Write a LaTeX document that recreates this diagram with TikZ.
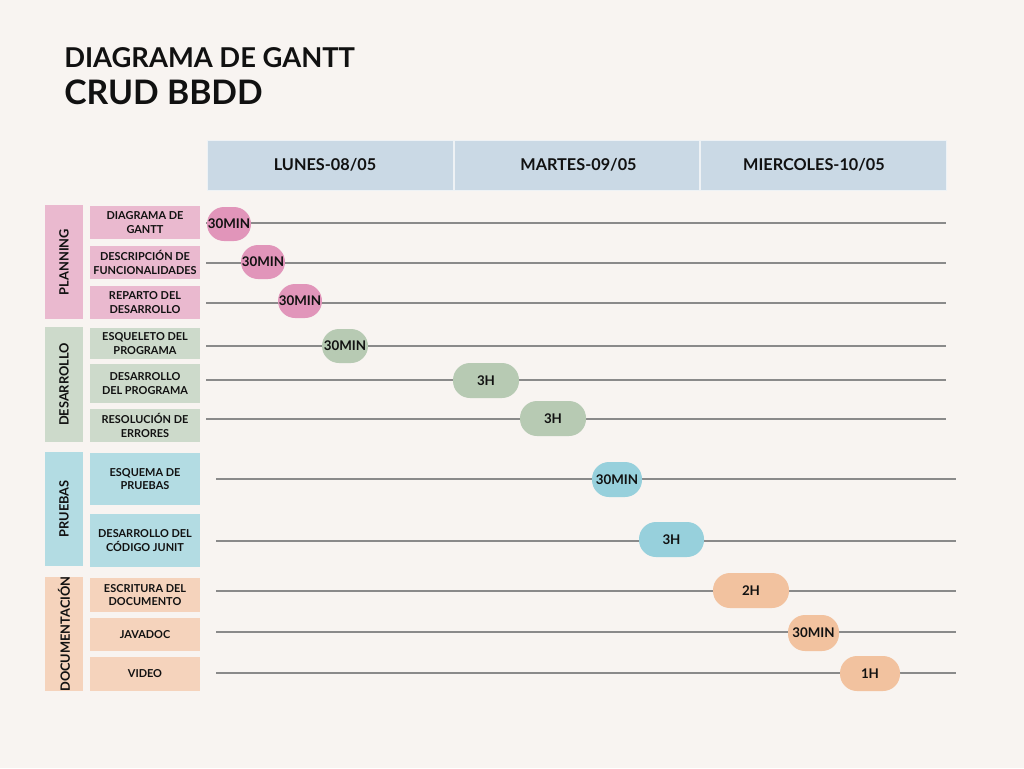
\documentclass[tikz,border=0pt]{standalone}
\usepackage{fontspec}
\setmainfont{Lato}
\usetikzlibrary{fit}
\definecolor{bg}{HTML}{F8F4F1}
\definecolor{ink}{HTML}{111111}
\definecolor{headc}{HTML}{CAD9E5}
\definecolor{headsep}{HTML}{EEF2F5}
\definecolor{pinkc}{HTML}{EAB9CF}
\definecolor{pinkp}{HTML}{E195BA}
\definecolor{greenc}{HTML}{CDDACB}
\definecolor{greenp}{HTML}{B7CAB3}
\definecolor{bluec}{HTML}{B3DCE3}
\definecolor{bluep}{HTML}{97D0DC}
\definecolor{orangec}{HTML}{F5D3BC}
\definecolor{orangep}{HTML}{F2C29F}
\definecolor{gridc}{HTML}{8A8A8A}
\begin{document}
\begin{tikzpicture}[x=0.75pt,y=-0.75pt,
  cellbox/.style={inner sep=0pt, outer sep=0pt},
  lab/.style={inner sep=0pt, outer sep=0pt, align=center, text=ink},
  headbox/.style={cellbox, fill=headc, draw=headsep, line width=0.6pt},
  headlab/.style={lab, font=\bfseries\fontsize{12.2}{14}\selectfont},
  catlab/.style={lab, rotate=90, font=\bfseries\fontsize{9.6}{11}\selectfont},
  tasklab/.style={lab, font=\bfseries\fontsize{8.2}{10}\selectfont},
  pill/.style={cellbox, rounded corners=12.75pt},
  pilllab/.style={lab, font=\bfseries\fontsize{10}{12}\selectfont},
  gridline/.style={draw=gridc, line width=0.9pt},
  titlefont/.style={inner sep=0pt, anchor=base west, text=ink}
]
\useasboundingbox[fill=bg] (0,0) rectangle (1024,768);

% titles
\node[titlefont, font=\bfseries\fontsize{20.5}{24}\selectfont] (title1) at (64,67) {DIAGRAMA DE GANTT};
\node[titlefont, font=\bfseries\fontsize{25.3}{28}\selectfont] (title2) at (64,104) {CRUD BBDD};

% header
\node[headbox, fit={(207,140) (453,190)}] (h1) {};
\node[headlab, xshift=-3.75pt] (h1l) at (h1.center) {LUNES-08/05};
\node[headbox, fit={(454,140) (699,190)}] (h2) {};
\node[headlab, xshift=1.5pt] (h2l) at (h2.center) {MARTES-09/05};
\node[headbox, fit={(700,140) (946,190)}] (h3) {};
\node[headlab, xshift=-6.75pt] (h3l) at (h3.center) {MIERCOLES-10/05};

% categories
\node[cellbox, fill=pinkc, fit={(45,205) (83,319)}] (cat1) {};
\node[catlab] (cl1) at (cat1.center) {PLANNING};
\node[cellbox, fill=greenc, fit={(45,327) (83,442)}] (cat2) {};
\node[catlab] (cl2) at (cat2.center) {DESARROLLO};
\node[cellbox, fill=bluec, fit={(45,452) (83,566)}] (cat3) {};
\node[catlab] (cl3) at (cat3.center) {PRUEBAS};
\node[cellbox, fill=orangec, fit={(45,577) (83,691)}] (cat4) {};
\node[catlab] (cl4) at (cat4.center) {DOCUMENTACIÓN};

% tasks
\node[cellbox, fill=pinkc, fit={(90,206) (200,239)}] (t1) {};
\node[tasklab] (t1l) at (t1.center) {DIAGRAMA DE\\GANTT};
\node[cellbox, fill=pinkc, fit={(90,246) (200,279)}] (t2) {};
\node[tasklab] (t2l) at (t2.center) {DESCRIPCIÓN DE\\FUNCIONALIDADES};
\node[cellbox, fill=pinkc, fit={(90,286) (200,319)}] (t3) {};
\node[tasklab] (t3l) at (t3.center) {REPARTO DEL\\DESARROLLO};
\node[cellbox, fill=greenc, fit={(90,328) (200,359)}] (t4) {};
\node[tasklab] (t4l) at (t4.center) {ESQUELETO DEL\\PROGRAMA};
\node[cellbox, fill=greenc, fit={(90,364) (200,403)}] (t5) {};
\node[tasklab] (t5l) at (t5.center) {DESARROLLO\\DEL PROGRAMA};
\node[cellbox, fill=greenc, fit={(90,409) (200,442)}] (t6) {};
\node[tasklab] (t6l) at (t6.center) {RESOLUCIÓN DE\\ERRORES};
\node[cellbox, fill=bluec, fit={(90,453) (200,505)}] (t7) {};
\node[tasklab] (t7l) at (t7.center) {ESQUEMA DE\\PRUEBAS};
\node[cellbox, fill=bluec, fit={(90,514) (200,567)}] (t8) {};
\node[tasklab] (t8l) at (t8.center) {DESARROLLO DEL\\CÓDIGO JUNIT};
\node[cellbox, fill=orangec, fit={(90,578) (200,612)}] (t9) {};
\node[tasklab] (t9l) at (t9.center) {ESCRITURA DEL\\DOCUMENTO};
\node[cellbox, fill=orangec, fit={(90,618) (200,651)}] (t10) {};
\node[tasklab] (t10l) at (t10.center) {JAVADOC};
\node[cellbox, fill=orangec, fit={(90,657) (200,691)}] (t11) {};
\node[tasklab] (t11l) at (t11.center) {VIDEO};

% grid lines
\foreach \i/\a/\b/\y in {1/206/946/223, 2/206/946/263, 3/206/946/303, 4/206/946/346, 5/206/946/380, 6/206/946/419, 7/216/956/479, 8/216/956/541, 9/216/956/591, 10/216/956/632, 11/216/956/673}{
  \coordinate (ls\i) at (\a,\y);
  \coordinate (le\i) at (\b,\y);
  \draw[gridline] (ls\i) -- (le\i);
}

% pills
\node[pill, fill=pinkp, fit={(207,207) (251,241)}] (p1) {};
\node[pilllab] (p1l) at (p1.center) {30MIN};
\node[pill, fill=pinkp, fit={(241,245) (285,279)}] (p2) {};
\node[pilllab] (p2l) at (p2.center) {30MIN};
\node[pill, fill=pinkp, fit={(278,284) (322,318)}] (p3) {};
\node[pilllab] (p3l) at (p3.center) {30MIN};
\node[pill, fill=greenp, fit={(322,329) (368,363)}] (p4) {};
\node[pilllab] (p4l) at (p4.center) {30MIN};
\node[pill, fill=greenp, fit={(453,363) (519,398)}] (p5) {};
\node[pilllab] (p5l) at (p5.center) {3H};
\node[pill, fill=greenp, fit={(520,401) (586,436)}] (p6) {};
\node[pilllab] (p6l) at (p6.center) {3H};
\node[pill, fill=bluep, fit={(592,462) (642,497)}] (p7) {};
\node[pilllab] (p7l) at (p7.center) {30MIN};
\node[pill, fill=bluep, fit={(639,522) (704,557)}] (p8) {};
\node[pilllab] (p8l) at (p8.center) {3H};
\node[pill, fill=orangep, fit={(713,573) (789,608)}] (p9) {};
\node[pilllab] (p9l) at (p9.center) {2H};
\node[pill, fill=orangep, fit={(788,615) (839,651)}] (p10) {};
\node[pilllab] (p10l) at (p10.center) {30MIN};
\node[pill, fill=orangep, fit={(840,656) (900,691)}] (p11) {};
\node[pilllab] (p11l) at (p11.center) {1H};
\end{tikzpicture}
\end{document}
